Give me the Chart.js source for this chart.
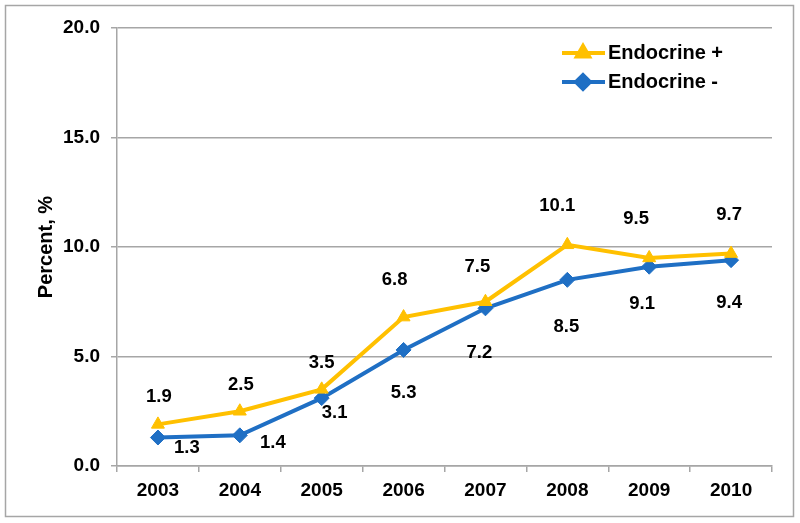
<!DOCTYPE html>
<html>
<head>
<meta charset="utf-8">
<script src="https://cdn.jsdelivr.net/npm/chart.js@4"></script>
<style>
  html, body { margin: 0; padding: 0; background: #fff; }
  canvas { display: block; }
</style>
</head>
<body>
<canvas id="chart" width="800" height="523"></canvas>
<script>
const years = ["2003", "2004", "2005", "2006", "2007", "2008", "2009", "2010"];
const endoPlus = [1.9, 2.5, 3.5, 6.8, 7.5, 10.1, 9.5, 9.7];
const endoMinus = [1.3, 1.4, 3.1, 5.3, 7.2, 8.5, 9.1, 9.4];
const seriesNames = ["Endocrine +", "Endocrine -"];

const yellow = "#FFC000";
const blue = "#1F6FC4";
const gridGray = "#A6A6A6";
const fam = "'Liberation Sans', Arial, sans-serif";
const tickFont = { family: fam, size: 19, weight: "bold" };
const titleFont = { family: fam, size: 20, weight: "bold" };

// where each value label sits relative to its point (dx, dy)
const plusShift = [[1, -27], [1, -26], [0, -26], [-9, -37], [-8, -35], [-10, -39], [-13, -39], [-2, -39]];
const minusShift = [[29, 10], [33, 8], [13, 15], [0, 43], [-6, 45], [-1, 47], [-7, 37], [-2, 43]];

const extras = {
    id: "extras",
    afterDatasetsDraw(chart) {
        const ctx = chart.ctx;
        ctx.save();
        ctx.font = "bold 18.5px " + fam;
        ctx.fillStyle = "#000";
        ctx.textAlign = "center";
        ctx.textBaseline = "middle";
        [plusShift, minusShift].forEach((shift, di) => {
            const meta = chart.getDatasetMeta(di);
            meta.data.forEach((pt, i) => {
                const v = chart.data.datasets[di].data[i];
                ctx.fillText(v.toFixed(1), pt.x + shift[i][0], pt.y + shift[i][1]);
            });
        });

        // legend inside the plot
        ctx.font = "bold 20px " + fam;
        const rows = [
            { label: seriesNames[0], color: yellow, style: "triangle", y: 53 },
            { label: seriesNames[1], color: blue, style: "rectRot", y: 82 }
        ];
        rows.forEach(r => {
            ctx.strokeStyle = r.color;
            ctx.lineWidth = 4;
            ctx.beginPath();
            ctx.moveTo(562, r.y);
            ctx.lineTo(605, r.y);
            ctx.stroke();
            Chart.helpers.drawPoint(ctx, { pointStyle: r.style, radius: 7, rotation: 0, borderWidth: 1 }, 583, r.y);
            ctx.fillStyle = r.color;
            ctx.fill();
            ctx.fillStyle = "#000";
            ctx.textAlign = "left";
            ctx.fillText(r.label, 608, r.y);
        });

        // outer frame
        ctx.strokeStyle = gridGray;
        ctx.lineWidth = 1.5;
        ctx.strokeRect(5.5, 5.5, 788, 511);
        ctx.restore();
    }
};

new Chart(document.getElementById("chart").getContext("2d"), {
    type: "line",
    data: {
        labels: years,
        datasets: [
            {
                label: seriesNames[0],
                data: endoPlus,
                borderColor: yellow,
                backgroundColor: yellow,
                borderWidth: 4,
                pointStyle: "triangle",
                pointRadius: 7.5,
                pointBorderWidth: 1,
                tension: 0
            },
            {
                label: seriesNames[1],
                data: endoMinus,
                borderColor: blue,
                backgroundColor: blue,
                borderWidth: 4,
                pointStyle: "rectRot",
                pointRadius: 7.5,
                pointBorderWidth: 1,
                tension: 0
            }
        ]
    },
    options: {
        responsive: false,
        animation: false,
        layout: { padding: { top: 28, right: 28, left: 0, bottom: 0 } },
        plugins: { legend: { display: false }, tooltip: { enabled: false } },
        scales: {
            x: {
                offset: true,
                grid: { offset: true, drawOnChartArea: false, drawTicks: true, tickLength: 6, color: gridGray, lineWidth: 1.5 },
                border: { color: gridGray, width: 1.5 },
                ticks: { color: "#000", font: tickFont, padding: 7, maxRotation: 0 },
                afterFit(scale) { scale.height = 57; }
            },
            y: {
                min: 0,
                max: 20,
                grid: { color: gridGray, lineWidth: 1.5, tickLength: 6 },
                border: { color: gridGray, width: 1.5 },
                ticks: {
                    stepSize: 5,
                    color: "#000",
                    font: tickFont,
                    padding: 11,
                    callback: v => v.toFixed(1)
                },
                title: {
                    display: true,
                    text: "Percent, %",
                    color: "#000",
                    font: titleFont,
                    padding: { top: 34, bottom: 0 }
                },
                afterFit(scale) { scale.width = 117; }
            }
        }
    },
    plugins: [extras]
});
</script>
</body>
</html>
